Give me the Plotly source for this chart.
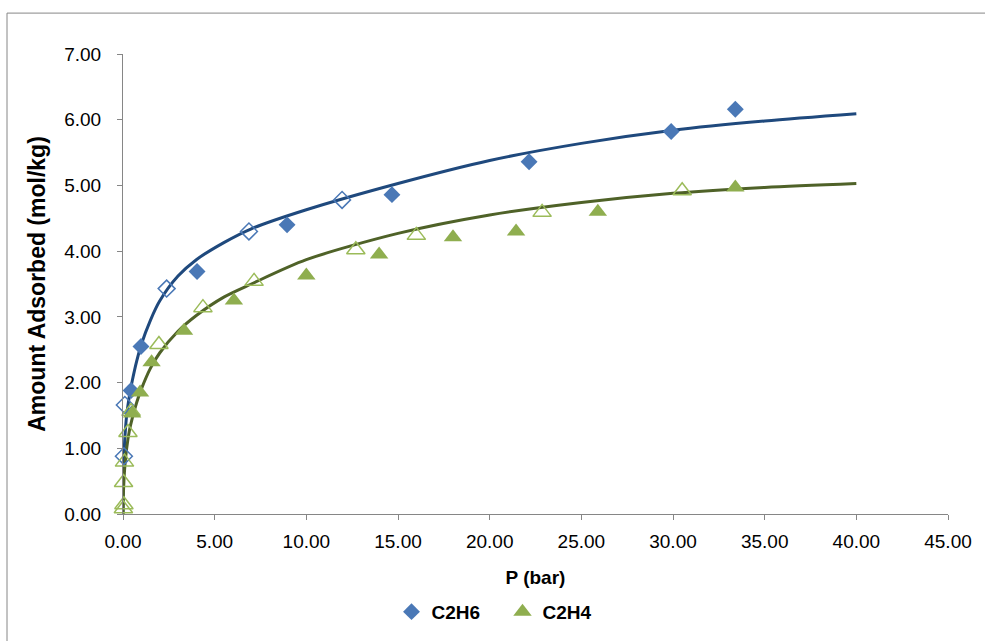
import plotly.graph_objects as go

# C2H6 filled (adsorption)
c2h6_p = [0.44, 0.98, 4.04, 8.95, 14.67, 22.15, 29.9, 33.4]
c2h6_q = [1.88, 2.55, 3.69, 4.40, 4.86, 5.36, 5.82, 6.16]
# C2H6 open
c2h6o_p = [0.05, 0.10, 2.38, 6.87, 11.95]
c2h6o_q = [0.88, 1.66, 3.43, 4.30, 4.78]
# C2H4 filled
c2h4_p = [0.50, 0.93, 1.56, 3.33, 6.05, 10.0, 13.97, 18.0, 21.44, 25.9, 33.4]
c2h4_q = [1.53, 1.85, 2.31, 2.79, 3.25, 3.63, 3.95, 4.21, 4.30, 4.60, 4.97]
# C2H4 open
c2h4o_p = [0.02, 0.05, 0.03, 0.08, 0.27, 0.44, 1.96, 4.36, 7.15, 12.7, 16.0, 22.86, 30.5]
c2h4o_q = [0.08, 0.14, 0.48, 0.79, 1.24, 1.56, 2.58, 3.14, 3.54, 4.02, 4.24, 4.59, 4.92]
# fitted curves
fit6_p = [0, 0.02, 0.05, 0.1, 0.2, 0.35, 0.5, 0.75, 1.0, 1.5, 2.0, 3.0, 4.0, 5.5, 7.0, 10, 15, 20, 25, 30, 35, 40]
fit6_q = [0, 0.55, 0.85, 1.15, 1.5, 1.8, 2.02, 2.33, 2.58, 2.95, 3.24, 3.62, 3.87, 4.13, 4.34, 4.63, 5.03, 5.38, 5.64, 5.84, 5.98, 6.09]
fit4_p = [0, 0.02, 0.05, 0.1, 0.2, 0.35, 0.5, 0.75, 1.0, 1.5, 2.0, 3.0, 4.0, 5.5, 7.0, 10, 15, 20, 25, 30, 35, 40]
fit4_q = [0, 0.3, 0.5, 0.72, 1.0, 1.27, 1.45, 1.7, 1.9, 2.22, 2.45, 2.78, 3.02, 3.3, 3.5, 3.87, 4.27, 4.55, 4.74, 4.88, 4.97, 5.03]

x_ticks = [0, 5, 10, 15, 20, 25, 30, 35, 40, 45]
y_ticks = [0, 1, 2, 3, 4, 5, 6, 7]

BLUE = "#4A78B6"
NAVY = "#1F497D"
GREEN = "#8FAE4F"
OPEN_GREEN = "#9BBB59"
OLIVE = "#4F6228"
GRAY = "#868686"

fig = go.Figure()
fig.add_trace(go.Scatter(x=fit6_p, y=fit6_q, mode="lines", line=dict(color=NAVY, width=3, shape="spline", smoothing=0.8), showlegend=False, hoverinfo="skip", cliponaxis=False))
fig.add_trace(go.Scatter(x=fit4_p, y=fit4_q, mode="lines", line=dict(color=OLIVE, width=3, shape="spline", smoothing=0.8), showlegend=False, hoverinfo="skip", cliponaxis=False))
fig.add_trace(go.Scatter(x=c2h6o_p, y=c2h6o_q, mode="markers", marker=dict(symbol="diamond-open", size=13, color=BLUE, line=dict(width=1.5)), showlegend=False, cliponaxis=False))
fig.add_trace(go.Scatter(x=c2h4o_p, y=c2h4o_q, mode="markers", marker=dict(symbol="triangle-up-open", size=16, color=OPEN_GREEN, line=dict(width=1.5)), showlegend=False, cliponaxis=False))
fig.add_trace(go.Scatter(x=c2h6_p, y=c2h6_q, mode="markers", name="<b>C2H6</b>", marker=dict(symbol="diamond", size=13, color=BLUE), cliponaxis=False))
fig.add_trace(go.Scatter(x=c2h4_p, y=c2h4_q, mode="markers", name="<b>C2H4</b>", marker=dict(symbol="triangle-up", size=16, color=GREEN), cliponaxis=False))

fig.update_layout(
    width=985, height=641,
    margin=dict(l=123, r=37, t=54, b=126),
    plot_bgcolor="white", paper_bgcolor="white",
    font=dict(family="Liberation Sans", size=19, color="black"),
    xaxis=dict(range=[0, 45], tickvals=x_ticks, tickformat=".2f", showgrid=False, zeroline=False,
               showline=True, linecolor=GRAY, linewidth=1, ticks="outside", ticklen=5, tickcolor=GRAY,
               tickfont=dict(family="Liberation Sans", size=19), ticklabelstandoff=5,
               title=dict(text="<b>P (bar)</b>", font=dict(family="Liberation Sans", size=19), standoff=19)),
    yaxis=dict(range=[0, 7], tickvals=y_ticks, tickformat=".2f", showgrid=False, zeroline=False,
               showline=True, linecolor=GRAY, linewidth=1, ticks="outside", ticklen=5, tickcolor=GRAY,
               tickfont=dict(family="Liberation Sans", size=19), ticklabelstandoff=12,
               title=dict(text="<b>Amount Adsorbed (mol/kg)</b>", font=dict(family="Liberation Sans", size=23), standoff=12)),
    legend=dict(orientation="h", x=0.460, xanchor="center", y=-0.21, yanchor="middle",
                font=dict(family="Liberation Sans", size=19), entrywidth=66, entrywidthmode="pixels"),
    shapes=[dict(type="rect", xref="paper", yref="paper", x0=-0.1406, x1=1.2, y0=-0.5, y1=1.0889,
                 line=dict(color=GRAY, width=1), layer="below")],
)
fig.write_html("out.html")
